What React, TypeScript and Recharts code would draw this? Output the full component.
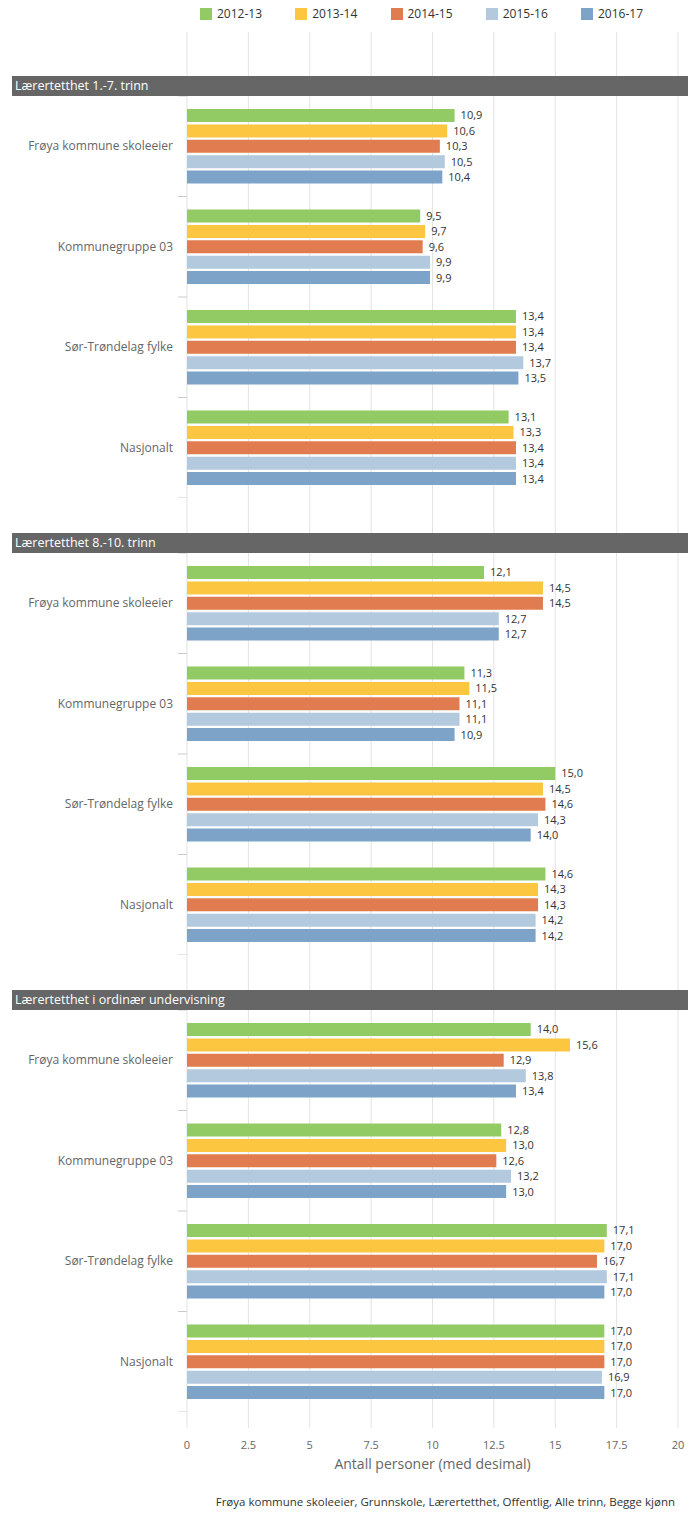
import React from 'react';
import { BarChart, Bar, XAxis, YAxis, CartesianGrid, LabelList } from 'recharts';

const categories = ['Frøya kommune skoleeier', 'Kommunegruppe 03', 'Sør-Trøndelag fylke', 'Nasjonalt'];
const seriesNames = ['2012-13', '2013-14', '2014-15', '2015-16', '2016-17'];
const seriesColors = ['#92CB63', '#FDC641', '#E07C4F', '#B3C9DE', '#7DA3C9'];
const panelTitles = ['Lærertetthet 1.-7. trinn', 'Lærertetthet 8.-10. trinn', 'Lærertetthet i ordinær undervisning'];

// values per category (rows) and season (columns)
const panel1Values = [
  [10.9, 10.6, 10.3, 10.5, 10.4],
  [9.5, 9.7, 9.6, 9.9, 9.9],
  [13.4, 13.4, 13.4, 13.7, 13.5],
  [13.1, 13.3, 13.4, 13.4, 13.4],
];
const panel2Values = [
  [12.1, 14.5, 14.5, 12.7, 12.7],
  [11.3, 11.5, 11.1, 11.1, 10.9],
  [15.0, 14.5, 14.6, 14.3, 14.0],
  [14.6, 14.3, 14.3, 14.2, 14.2],
];
const panel3Values = [
  [14.0, 15.6, 12.9, 13.8, 13.4],
  [12.8, 13.0, 12.6, 13.2, 13.0],
  [17.1, 17.0, 16.7, 17.1, 17.0],
  [17.0, 17.0, 17.0, 16.9, 17.0],
];
const xTicks = [0, 2.5, 5, 7.5, 10, 12.5, 15, 17.5, 20];
const xAxisTitle = 'Antall personer (med desimal)';
const creditText = 'Frøya kommune skoleeier, Grunnskole, Lærertetthet, Offentlig, Alle trinn, Begge kjønn';

const FONT = '"Open Sans", "Noto Sans", sans-serif';
const W = 700;
const LEFT = 187;
const RIGHT_M = 22;
const PANEL_H = 402;
const panelTops = [96, 553, 1010];
const HEADER_H = 20;
const FRAME_TOP = 32;
const FRAME_H = 1480;
const FRAME_AXIS_H = 52;

const buildData = (values: number[][]) =>
  categories.map((name, i) => {
    const row: Record<string, any> = { name };
    seriesNames.forEach((s, j) => {
      row[s] = values[i][j];
    });
    return row;
  });

const panels = [panel1Values, panel2Values, panel3Values].map(buildData);
const frameData = categories.map((name) => ({ name, base: 0 }));

const fmt = (v: any) => Number(v).toFixed(1).replace('.', ',');

function CategoryTick(props: any) {
  const { x, y, payload, index } = props;
  const band = PANEL_H / categories.length;
  return (
    <g>
      <text x={x} y={y} dy="0.35em" textAnchor="end" fill="#666666" fontSize={12} fontFamily={FONT}>
        {payload.value}
      </text>
      <line x1={x + 5} x2={x + 14} y1={y + band / 2} y2={y + band / 2} stroke="#cccccc" strokeWidth={1} />
      {index === 0 && (
        <line x1={x + 5} x2={x + 14} y1={y - band / 2} y2={y - band / 2} stroke="#cccccc" strokeWidth={1} />
      )}
    </g>
  );
}

export default function App() {
  return (
    <div
      style={{
        position: 'absolute',
        left: 0,
        top: 0,
        width: W,
        height: 1534,
        background: '#ffffff',
        fontFamily: FONT,
        overflow: 'hidden',
      }}
    >
      {/* legend */}
      <div style={{ position: 'absolute', left: 200, top: 6, display: 'flex', alignItems: 'center' }}>
        {seriesNames.map((s, i) => (
          <div key={s} style={{ display: 'flex', alignItems: 'center', width: 95.25, whiteSpace: 'nowrap' }}>
            <div style={{ width: 12, height: 12, background: seriesColors[i], marginRight: 5, flex: '0 0 auto' }} />
            <span style={{ fontSize: 12, color: '#333333', lineHeight: '16px' }}>{s}</span>
          </div>
        ))}
      </div>

      {/* frame: grid + x axis */}
      <div style={{ position: 'absolute', left: 0, top: 0 }}>
        <BarChart
          layout="vertical"
          width={W}
          height={FRAME_H}
          data={frameData}
          margin={{ top: FRAME_TOP, right: RIGHT_M, bottom: 0, left: LEFT }}
        >
          <CartesianGrid horizontal={false} stroke="#e3e3e3" />
          <XAxis
            type="number"
            domain={[0, 20]}
            ticks={xTicks}
            interval={0}
            height={FRAME_AXIS_H}
            axisLine={false}
            tickLine={false}
            tickMargin={7}
            tick={{ fill: '#666666', fontSize: 11, fontFamily: FONT }}
            label={{ value: xAxisTitle, position: 'insideBottom', offset: 11, fill: '#666666', fontSize: 14, fontFamily: FONT }}
          />
          <YAxis type="category" dataKey="name" hide />
          <Bar dataKey="base" fill="transparent" isAnimationActive={false} />
        </BarChart>
      </div>

      {/* panels */}
      {panels.map((data, p) => (
        <div key={p} style={{ position: 'absolute', left: 0, top: panelTops[p] }}>
          <BarChart
            layout="vertical"
            width={W}
            height={PANEL_H}
            data={data}
            margin={{ top: 0, right: RIGHT_M, bottom: 0, left: 0 }}
            barSize={13}
            barGap={2.4}
            style={{ overflow: 'visible' }}
          >
            <XAxis type="number" domain={[0, 20]} hide />
            <YAxis
              type="category"
              dataKey="name"
              width={LEFT}
              axisLine={false}
              tickLine={false}
              tickSize={14}
              tickMargin={0}
              interval={0}
              tick={<CategoryTick />}
            />
            {seriesNames.map((s, i) => (
              <Bar key={s} dataKey={s} fill={seriesColors[i]} isAnimationActive={false}>
                <LabelList
                  dataKey={s}
                  position="right"
                  offset={6}
                  formatter={fmt}
                  fill="#333333"
                  fontSize={11}
                  fontFamily={FONT}
                />
              </Bar>
            ))}
          </BarChart>
        </div>
      ))}

      {/* panel headers */}
      {panelTitles.map((t, p) => (
        <div
          key={t}
          style={{
            position: 'absolute',
            left: 12,
            width: 676,
            top: panelTops[p] - HEADER_H,
            height: HEADER_H,
            background: '#666666',
            color: '#ffffff',
            fontSize: 12.5,
            lineHeight: HEADER_H + 'px',
            paddingLeft: 3,
            boxSizing: 'border-box',
            whiteSpace: 'nowrap',
          }}
        >
          {t}
        </div>
      ))}

      {/* credits */}
      <div
        style={{
          position: 'absolute',
          right: 25,
          top: 1495,
          fontSize: 11.5,
          lineHeight: '14px',
          color: '#333333',
          whiteSpace: 'nowrap',
        }}
      >
        {creditText}
      </div>
    </div>
  );
}
